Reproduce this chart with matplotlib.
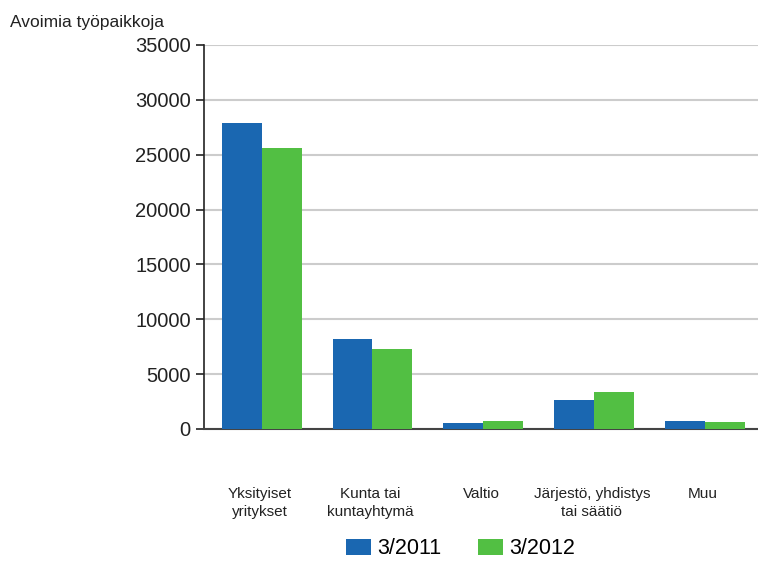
import numpy as np
import matplotlib.pyplot as plt

plt.rcParams['font.family'] = ['Liberation Sans', 'DejaVu Sans']

categories = ['Yksityiset\nyritykset', 'Kunta tai\nkuntayhtymä', 'Valtio',
              'Järjestö, yhdistys\ntai säätiö', 'Muu']
v2011 = [27900, 8200, 580, 2650, 730]
v2012 = [25600, 7320, 730, 3370, 610]
series = ['3/2011', '3/2012']

fig = plt.figure(figsize=(7.58, 5.61), dpi=100)
ax = fig.add_axes([204 / 758, 1 - 429 / 561, 554 / 758, 384 / 561])

x = np.arange(len(categories))
w = 0.36
ax.bar(x - w / 2 + 0.02, v2011, w, color='#1a67b1', label=series[0], zorder=3)
ax.bar(x + w / 2 + 0.02, v2012, w, color='#52bf43', label=series[1], zorder=3)

ax.set_xlim(-0.5, len(categories) - 0.5)
ax.set_ylim(0, 35000)
ax.set_yticks(range(0, 35001, 5000))
ax.tick_params(axis='y', labelsize=14.5, colors='#222222', length=6, width=1.2)
ax.tick_params(axis='x', length=0, pad=0)
ax.set_xticks(x)
ax.set_xticklabels([])
for xi, lab in zip(x, categories):
    ax.text(xi, -5300, lab, ha='center', va='top', fontsize=11, color='#222222',
            linespacing=1.35)

ax.grid(axis='y', color='#cccccc', linewidth=1.5, zorder=0)
for s in ['top', 'right']:
    ax.spines[s].set_visible(False)
ax.spines['left'].set_color('#222222')
ax.spines['left'].set_linewidth(1.2)
ax.spines['bottom'].set_color('#444444')
ax.spines['bottom'].set_linewidth(1.5)

fig.text(10 / 758, 1 - 22 / 561, 'Avoimia työpaikkoja', fontsize=12.5, color='#222222', va='center')

fig.legend(loc='center', bbox_to_anchor=(461 / 758, 1 - 549 / 561), ncol=2, frameon=False,
           fontsize=15.5, handlelength=1.15, handleheight=0.8, columnspacing=1.7, handletextpad=0.3)

fig.savefig('out.png', dpi=100)
